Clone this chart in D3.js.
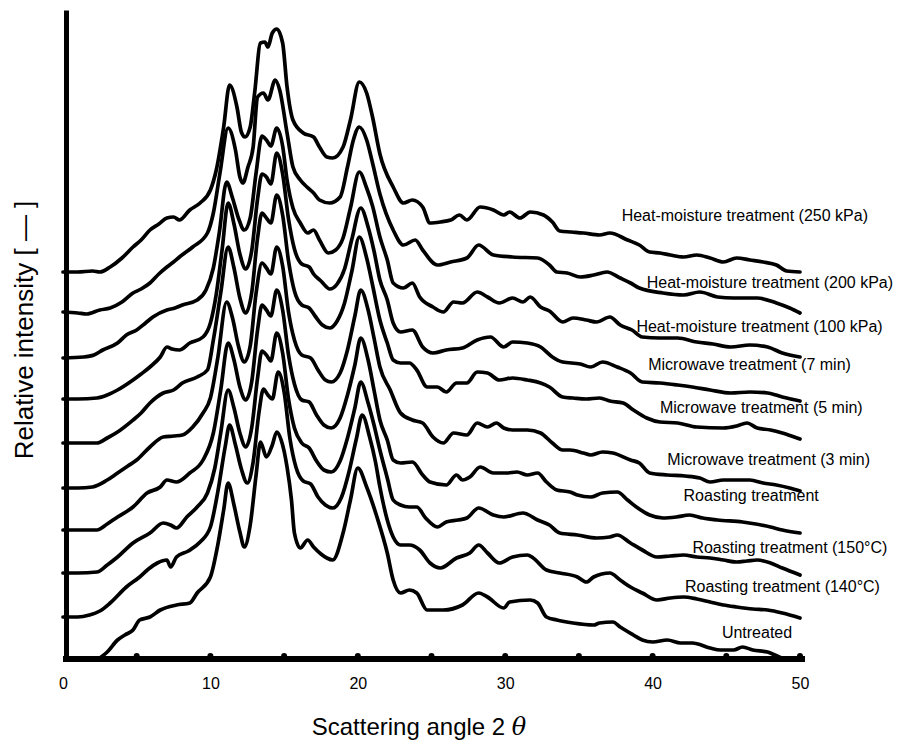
<!DOCTYPE html>
<html>
<head>
<meta charset="utf-8">
<script src="https://cdn.jsdelivr.net/npm/d3@7"></script>
<style>
  body { margin: 0; background: #fff; }
  text { font-family: "Liberation Sans", Arial, sans-serif; fill: #000; }
</style>
</head>
<body>
<svg id="chart" width="906" height="740"></svg>
<script>
// X-ray diffraction patterns, [2theta, relative intensity above own baseline]
var untreated = [[2.3,0],[3.0,8],[3.7,20],[4.2,25],[4.75,30],[5.2,40],[5.9,43],[6.6,50],[7.7,55],[8.6,57],[9.1,67],[10.0,83],[10.5,115],[10.9,150],[11.2,177],[11.6,155],[12.0,128],[12.3,113],[12.7,135],[13.1,185],[13.4,218],[13.8,203],[14.2,215],[14.5,228],[14.8,220],[15.2,193],[15.5,160],[15.7,127],[16.1,112],[16.6,120],[17.0,113],[17.5,106],[17.9,102],[18.3,100],[19.0,127],[19.5,160],[20.0,192],[20.6,173],[21.3,143],[22.0,107],[22.4,80],[22.9,67],[23.5,70],[24.0,67],[24.7,50],[25.8,50],[27.1,55],[28.2,67],[28.8,63],[29.9,52],[30.3,58],[31.7,60],[32.2,57],[32.8,43],[33.5,40],[34.6,37],[36.0,35],[36.4,37],[37.3,38],[37.8,33],[38.7,25],[39.3,20],[40.0,18],[41.0,20],[41.9,17],[42.7,17],[43.9,12],[44.6,10],[45.5,10],[46.1,13],[46.8,10],[47.8,8],[48.6,3],[49.3,0],[50,0]];

var roast140 = [[0,0],[1,0],[1.8,2],[2.5,6],[3.2,14],[4.3,30],[5.2,40],[5.8,48],[6.4,54],[7.05,57],[7.3,50],[7.7,60],[8.5,66],[9.3,75],[10.0,90],[10.5,125],[11.0,170],[11.3,192],[11.7,172],[12.1,148],[12.5,134],[12.9,155],[13.3,205],[13.6,228],[13.9,222],[14.2,218],[14.6,245],[15.0,225],[15.4,178],[15.8,150],[16.3,136],[16.8,133],[17.3,120],[17.8,112],[18.3,109],[18.9,120],[19.4,145],[19.9,178],[20.3,202],[20.8,180],[21.2,155],[21.5,130],[22.0,97],[22.4,80],[22.9,72],[23.5,72],[24.2,67],[24.9,54],[25.6,49],[26.7,59],[27.6,64],[28.2,72],[28.8,64],[29.6,54],[30.5,60],[31.5,62],[31.9,59],[32.8,47],[33.7,44],[34.9,40],[35.5,35],[36.0,40],[37.1,44],[37.8,37],[38.5,30],[39.3,24],[40.3,17],[41.2,19],[42.1,20],[43.0,18],[43.9,15],[44.8,12],[45.7,10],[46.8,8],[47.8,7],[48.8,4],[50,-1]];

var roast150 = [[0,0],[1,0],[2.3,1],[3,8],[3.7,16],[4.75,30],[5.9,40],[6.8,50],[7.3,48],[7.7,45],[8.4,56],[9.1,66],[9.8,80],[10.3,105],[10.7,140],[11.2,183],[11.6,165],[12.0,140],[12.4,126],[12.8,145],[13.2,195],[13.5,222],[13.8,218],[14.1,212],[14.5,240],[14.9,220],[15.3,174],[15.7,145],[16.2,130],[16.7,125],[17.2,112],[17.7,103],[18.2,101],[18.8,112],[19.3,135],[19.8,165],[20.2,191],[20.7,170],[21.1,148],[21.5,123],[22.0,95],[22.4,73],[22.9,68],[23.5,66],[24.0,66],[24.6,55],[25.4,46],[26.0,51],[26.8,53],[27.4,55],[28.2,65],[29.2,58],[29.9,56],[31.2,60],[32.2,53],[33.0,48],[33.7,40],[34.9,38],[36.2,35],[37.1,36],[37.6,38],[38.5,30],[39.3,23],[40.3,16],[41.2,17],[42.1,18],[43.0,16],[43.9,15],[44.8,13],[45.7,11],[46.4,12],[47.1,13],[48,10],[48.8,5],[50,-2]];

var roastPlain = [[0,0],[1,0],[2.3,0],[3,6],[3.7,13],[4.75,23],[5.7,37],[6.6,43],[7.05,50],[7.7,48],[8.6,57],[9.5,70],[10.2,97],[10.7,140],[11.2,187],[11.6,170],[12.0,143],[12.4,130],[12.8,148],[13.2,200],[13.5,225],[13.8,220],[14.1,214],[14.5,240],[14.9,220],[15.3,175],[15.7,146],[16.2,130],[16.7,128],[17.2,115],[17.7,105],[18.2,102],[18.8,112],[19.3,135],[19.8,165],[20.2,192],[20.7,170],[21.1,140],[21.5,110],[22.0,90],[22.4,70],[22.9,67],[23.7,68],[24.4,55],[24.9,48],[26.0,45],[26.7,55],[27.1,50],[27.6,53],[28.3,63],[29.2,57],[30.1,57],[30.8,58],[31.5,55],[32.2,57],[32.8,48],[33.5,40],[34.4,38],[34.9,35],[35.8,33],[36.6,37],[37.6,38],[38.3,30],[38.9,23],[39.8,15],[40.7,12],[41.6,13],[42.5,15],[43.4,12],[44.4,10],[46.1,8],[47.0,6],[48.0,3],[48.8,0],[50,-3]];

var micro3 = [[0,0],[1,0],[2,1],[3,8],[3.7,15],[4.4,22],[5,28],[5.9,41],[6.8,51],[7.5,52],[8.1,53],[8.8,61],[9.5,75],[10.0,90],[10.5,130],[11.1,186],[11.5,170],[11.9,142],[12.3,126],[12.7,142],[13.1,195],[13.5,225],[13.8,220],[14.1,214],[14.5,241],[14.9,222],[15.3,176],[15.7,148],[16.2,133],[16.8,130],[17.3,118],[17.8,108],[18.2,106],[18.8,115],[19.3,138],[19.8,172],[20.2,198],[20.7,178],[21.1,150],[21.5,121],[22.2,98],[22.9,75],[23.7,68],[24.4,65],[25.1,51],[25.8,45],[26.5,55],[27.4,53],[28.1,65],[28.8,61],[29.4,65],[29.9,60],[30.5,58],[31.5,58],[32.4,55],[33.2,45],[33.9,38],[34.4,38],[35.3,35],[35.8,33],[36.6,36],[37.3,35],[38.5,28],[39.1,25],[39.8,15],[41.0,13],[42.2,12],[43.2,10],[43.9,6],[44.8,8],[46.6,8],[47.5,5],[48.4,3],[49.3,0],[50,-3]];

var micro5 = [[0,0],[1.5,0],[2.3,0],[3.0,5],[3.7,11],[4.75,23],[5.3,30],[5.9,40],[6.8,50],[7.5,53],[8.1,60],[9.1,66],[9.8,73],[10.2,103],[10.7,150],[11.2,196],[11.6,175],[12.0,145],[12.4,130],[12.8,150],[13.2,205],[13.5,230],[13.8,225],[14.1,220],[14.5,248],[14.9,228],[15.3,182],[15.7,152],[16.2,138],[16.7,135],[17.1,127],[17.6,118],[18.1,115],[18.6,122],[19.1,140],[19.6,172],[20.1,206],[20.6,185],[21.0,158],[21.5,123],[22.0,100],[22.4,83],[22.9,80],[23.5,80],[24.0,73],[24.7,56],[25.4,56],[26.0,51],[26.7,60],[27.4,60],[28.1,71],[28.8,70],[29.6,63],[30.5,65],[31.5,63],[32.4,60],[33.0,56],[33.9,46],[34.6,45],[35.5,44],[36.4,45],[37.1,42],[38.0,40],[38.7,33],[39.6,25],[40.5,21],[41.7,20],[43.0,16],[44.8,15],[45.7,17],[46.4,20],[47.1,15],[48.0,13],[48.8,10],[49.8,5],[50,4]];

var micro7 = [[0,0],[1,0],[2.3,1],[3,4],[3.7,9],[4.75,19],[5.3,25],[5.9,32],[6.6,42],[7.05,52],[7.4,50],[7.9,49],[8.6,56],[9.5,62],[10,76],[10.4,105],[10.8,150],[11.2,196],[11.6,175],[12.0,145],[12.4,130],[12.8,148],[13.2,200],[13.5,225],[13.8,222],[14.1,215],[14.5,246],[14.9,225],[15.3,180],[15.7,150],[16.2,135],[16.7,132],[17.0,125],[17.5,118],[18.1,110],[18.6,115],[19.1,130],[19.6,160],[20.2,191],[20.7,172],[21.1,148],[21.5,119],[22.0,99],[22.4,76],[22.9,67],[23.7,69],[24.4,52],[25.1,46],[26.0,49],[27.1,51],[28.1,59],[29.0,62],[29.9,52],[30.5,57],[31.5,56],[32.4,52],[33.2,42],[33.9,37],[35.1,35],[35.8,32],[36.6,37],[37.6,32],[38.5,26],[39.3,17],[40.5,16],[41.7,14],[42.7,12],[43.9,9],[45.3,6],[46.6,7],[47.8,6],[48.8,2],[50,-2]];

var hmt100 = [[0,0],[1.4,1],[2.1,3],[2.7,8],[3.7,15],[4.3,23],[5,28],[5.6,35],[6.1,41],[7.05,48],[7.6,50],[8.1,53],[9.1,58],[9.7,68],[10.2,90],[10.6,125],[11.1,176],[11.5,160],[11.9,140],[12.3,128],[12.7,140],[13.1,185],[13.5,222],[13.8,218],[14.1,212],[14.5,230],[14.9,212],[15.2,178],[15.6,150],[16.1,135],[16.6,125],[17.0,128],[17.4,118],[18.0,105],[18.5,108],[19.0,120],[19.5,150],[20.1,186],[20.6,170],[21.0,152],[21.5,121],[22.0,98],[22.4,75],[23.1,70],[23.7,75],[24.2,61],[25.1,51],[25.8,46],[26.5,56],[27.1,55],[28.1,66],[28.8,61],[29.6,55],[30.5,60],[31.2,56],[31.7,61],[32.4,51],[33.0,47],[33.9,36],[34.6,40],[35.5,38],[36.2,36],[37.1,41],[37.8,33],[38.6,28],[39.3,21],[40.5,20],[41.7,20],[43.0,16],[44.1,14],[45.3,11],[46.6,13],[47.8,11],[48.8,5],[50,1]];

var hmt200 = [[0,0],[1,-1],[1.6,-2],[2.5,2],[3.2,4],[4,10],[4.75,19],[5.3,23],[5.9,29],[6.5,38],[7.05,45],[7.5,50],[7.9,55],[8.8,65],[9.8,79],[10.2,99],[10.65,139],[11.2,184],[11.7,162],[12.0,135],[12.2,129],[12.55,145],[12.9,165],[13.2,215],[13.6,219],[13.9,212],[14.4,232],[14.7,222],[15.2,179],[15.6,145],[16.1,132],[16.55,125],[17.0,119],[17.4,112],[18.1,109],[18.8,115],[19.3,145],[19.7,172],[20.1,185],[20.6,172],[21.0,149],[21.5,118],[22.4,82],[23.1,67],[23.9,72],[24.4,62],[25.4,47],[26.3,50],[27.4,54],[28.2,67],[29.2,57],[30.5,55],[32.2,54],[33.0,47],[33.5,40],[34.2,39],[35.1,35],[36.0,37],[36.9,40],[37.8,34],[38.5,29],[39.1,24],[40.7,19],[42.1,17],[43.2,20],[44.4,15],[45.5,14],[47.1,14],[48.4,9],[49.3,4],[50,-1]];

var hmt250 = [[0,0],[1,0],[2,1],[2.5,0],[3.2,5],[4,14],[4.75,25],[5.3,32],[5.9,42],[6.5,48],[7.05,54],[7.5,55],[7.9,52],[8.6,62],[9.3,69],[10,82],[10.4,102],[10.9,145],[11.3,187],[11.8,165],[12.1,140],[12.35,135],[12.7,145],[13.0,179],[13.4,229],[13.7,230],[13.9,225],[14.2,239],[14.5,243],[14.9,229],[15.2,185],[15.6,152],[16.3,139],[17.0,135],[17.4,125],[17.9,115],[18.3,114],[19.0,125],[19.5,152],[20.1,190],[20.6,179],[21.0,155],[21.5,118],[22.4,85],[23.1,69],[23.7,72],[24.4,65],[24.9,49],[25.6,50],[26.3,52],[26.9,57],[27.4,52],[28.3,65],[29.2,62],[29.9,57],[30.3,60],[31.0,54],[31.7,60],[32.6,57],[33.2,50],[33.7,41],[34.5,40],[35.3,39],[36.4,37],[37.1,39],[38.3,32],[39.1,27],[39.8,20],[40.5,19],[41.2,17],[42.1,15],[43.0,17],[43.9,14],[44.8,10],[45.7,14],[46.6,12],[47.5,10],[48.4,7],[49.1,1],[50,0]];

// series order bottom to top
var seriesData = [untreated, roast140, roast150, roastPlain, micro3, micro5, micro7, hmt100, hmt200, hmt250];
var seriesNames = ["Untreated", "Roasting treatment (140°C)", "Roasting treatment (150°C)", "Roasting treatment",
  "Microwave treatment (3 min)", "Microwave treatment (5 min)", "Microwave treatment (7 min)",
  "Heat-moisture treatment (100 kPa)", "Heat-moisture treatment (200 kPa)", "Heat-moisture treatment (250 kPa)"];
var seriesOffsets = [0, 43, 87, 130, 172, 217, 261, 302, 348, 388];
var xTicks = [0, 10, 20, 30, 40, 50];
var xMinor = [5, 10, 15, 20, 25, 30, 35, 40, 45, 50];

// label placement: [2theta of left edge, height above the curve's offset]
var labelPlace = [[44.7, 22], [42.2, 25], [42.7, 20], [42.1, 29], [41.0, 23], [40.5, 30], [39.7, 29], [38.9, 26], [39.6, 24], [37.9, 51]];

var svg = d3.select("#chart");

var x = d3.scaleLinear().domain([0, 50]).range([63, 800]);
var y = d3.scaleLinear().domain([0, 650]).range([660, 10]);

// Curves
var curveLayer = svg.append("g");
seriesData.forEach(function(data, i) {
    var off = seriesOffsets[i];
    var line = d3.line()
        .x(function(d) { return x(d[0]); })
        .y(function(d) { return y(d[1] + off); })
        .curve(d3.curveMonotoneX);
    curveLayer.append("path")
        .datum(data)
        .attr("d", line)
        .attr("fill", "none")
        .attr("stroke", "#000")
        .attr("stroke-width", 3.7)
        .attr("stroke-linejoin", "round")
        .attr("stroke-linecap", "round");
});

// X axis
var xAxis = d3.axisBottom(x).tickValues(xTicks).tickSize(0).tickPadding(19).tickFormat(d3.format("d"));
var gx = svg.append("g")
    .attr("transform", "translate(0," + (y(0) - 1) + ")")
    .call(xAxis);
gx.select(".domain").attr("stroke", "#000").attr("stroke-width", 6)
    .attr("d", "M" + x(0) + ",0H" + (x(50) + 5));
gx.selectAll(".tick text").attr("font-size", 16).attr("font-family", "Liberation Sans, Arial, sans-serif");

gx.selectAll("circle.minor")
    .data(xMinor)
    .enter().append("circle")
    .attr("class", "minor")
    .attr("cx", function(d) { return x(d); })
    .attr("cy", -3)
    .attr("r", 3)
    .attr("fill", "#000");

// Y axis (no ticks)
var yAxis = d3.axisLeft(y).tickValues([]).tickSizeOuter(0);
var gy = svg.append("g")
    .attr("transform", "translate(" + (x(0) + 3) + ",0)")
    .call(yAxis);
gy.select(".domain").attr("stroke", "#000").attr("stroke-width", 5);

// Series labels
seriesNames.forEach(function(name, i) {
    svg.append("text")
        .attr("x", x(labelPlace[i][0]))
        .attr("y", y(seriesOffsets[i] + labelPlace[i][1]))
        .attr("font-size", 16)
        .text(name);
});

// Axis titles
var xt = svg.append("text")
    .attr("x", 419)
    .attr("y", 735)
    .attr("text-anchor", "middle")
    .attr("font-size", 24);
xt.append("tspan").text("Scattering angle 2 ");
xt.append("tspan").attr("font-style", "italic").attr("font-family", "DejaVu Serif, serif").text("θ");

svg.append("text")
    .attr("transform", "translate(33,330) rotate(-90)")
    .attr("text-anchor", "middle")
    .attr("font-size", 26)
    .text("Relative intensity [ — ]");
</script>
</body>
</html>
